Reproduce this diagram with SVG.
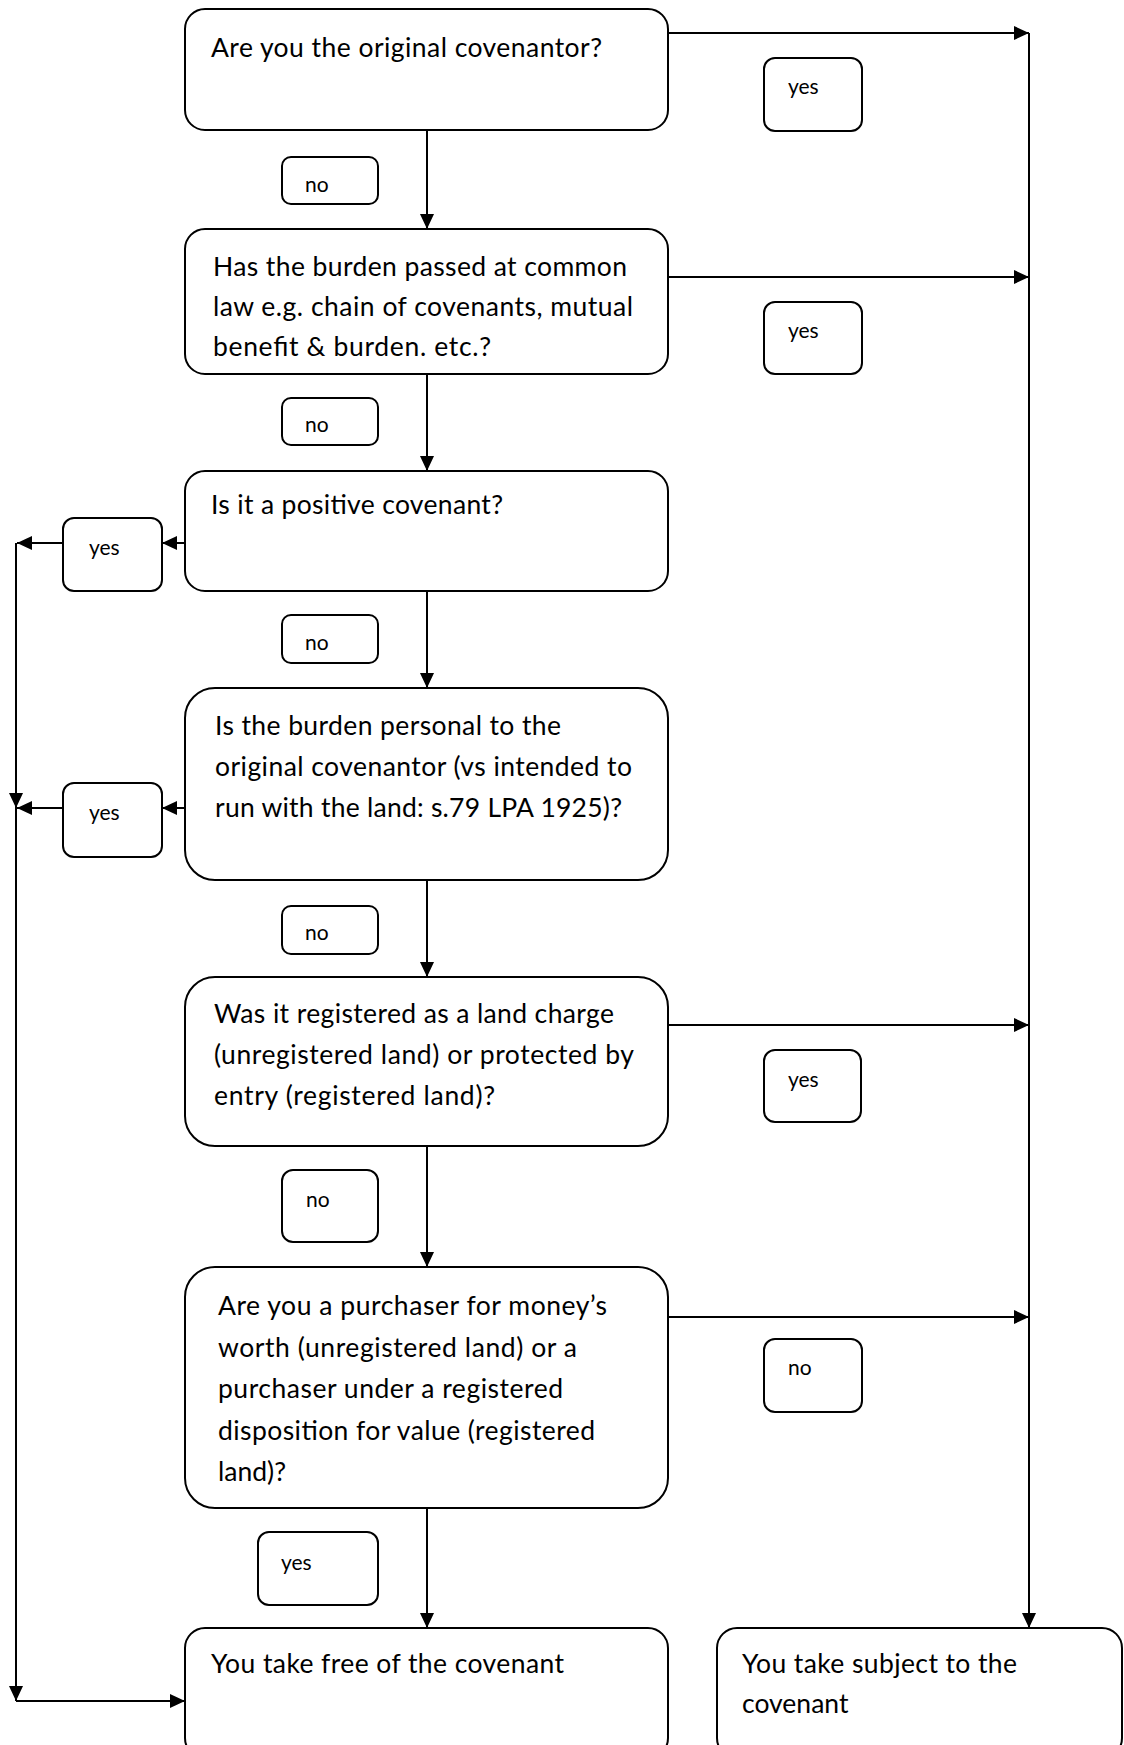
<svg xmlns="http://www.w3.org/2000/svg" width="1124" height="1745" viewBox="0 0 1124 1745">
<defs>
<marker id="ah" markerUnits="userSpaceOnUse" markerWidth="16" markerHeight="14" refX="15" refY="7" orient="auto">
<path d="M0,0 L15,7 L0,14 z" fill="#000"/>
</marker>
<style>
.box{fill:#fff;stroke:#000;stroke-width:2}
.lbl{fill:#fff;stroke:#000;stroke-width:2}
.t{font-family:Lato,"Open Sans","Liberation Sans",sans-serif;font-size:26.5px;fill:#000}
.s{font-family:Lato,"Open Sans","Liberation Sans",sans-serif;font-size:21px;fill:#000}
.c{fill:none;stroke:#000;stroke-width:2}
.a{fill:none;stroke:#000;stroke-width:2;marker-end:url(#ah)}
</style>
</defs>
<rect width="1124" height="1745" fill="#fff"/>
<g id="connectors">
<path class="a" d="M668,33 H1029"/>
<path class="a" d="M668,277 H1029"/>
<path class="a" d="M668,1025 H1029"/>
<path class="a" d="M668,1317 H1029"/>
<path class="a" d="M1029,33 V1628"/>
<path class="a" d="M427,130 V229"/>
<path class="a" d="M427,374 V471"/>
<path class="a" d="M427,591 V688"/>
<path class="a" d="M427,880 V977"/>
<path class="a" d="M427,1146 V1267"/>
<path class="a" d="M427,1508 V1628"/>
<path class="a" d="M185,543 H162"/>
<path class="a" d="M63,543 H17"/>
<path class="a" d="M185,808 H162"/>
<path class="a" d="M63,808 H17"/>
<path class="a" d="M16,543 V808"/>
<path class="a" d="M16,808 V1701"/>
<path class="a" d="M16,1701 H185"/>
</g>
<g id="q1">
<rect class="box" x="185" y="9" width="483" height="121" rx="20"/>
<text class="t" x="211" y="57" textLength="391">Are you the original covenantor?</text>
</g>
<g id="q2">
<rect class="box" x="185" y="229" width="483" height="145" rx="20"/>
<text class="t" x="213" y="276" textLength="414">Has the burden passed at common</text>
<text class="t" x="213" y="316" textLength="420">law e.g. chain of covenants, mutual</text>
<text class="t" x="213" y="356" textLength="278">benefit &amp; burden. etc.?</text>
</g>
<g id="q3">
<rect class="box" x="185" y="471" width="483" height="120" rx="20"/>
<text class="t" x="211" y="514" textLength="292">Is it a positive covenant?</text>
</g>
<g id="q4">
<rect class="box" x="185" y="688" width="483" height="192" rx="30"/>
<text class="t" x="215" y="735" textLength="346">Is the burden personal to the</text>
<text class="t" x="215" y="776" textLength="417">original covenantor (vs intended to</text>
<text class="t" x="215" y="817" textLength="407">run with the land: s.79 LPA 1925)?</text>
</g>
<g id="q5">
<rect class="box" x="185" y="977" width="483" height="169" rx="30"/>
<text class="t" x="214" y="1023" textLength="400">Was it registered as a land charge</text>
<text class="t" x="214" y="1064" textLength="420">(unregistered land) or protected by</text>
<text class="t" x="214" y="1105" textLength="281">entry (registered land)?</text>
</g>
<g id="q6">
<rect class="box" x="185" y="1267" width="483" height="241" rx="30"/>
<text class="t" x="218" y="1315" textLength="389">Are you a purchaser for money’s</text>
<text class="t" x="218" y="1357" textLength="359">worth (unregistered land) or a</text>
<text class="t" x="218" y="1398" textLength="345">purchaser under a registered</text>
<text class="t" x="218" y="1440" textLength="377">disposition for value (registered</text>
<text class="t" x="218" y="1481">land)?</text>
</g>
<g id="free">
<rect class="box" x="185" y="1628" width="483" height="130" rx="20"/>
<text class="t" x="211" y="1673" textLength="353">You take free of the covenant</text>
</g>
<g id="subject">
<rect class="box" x="717" y="1628" width="405" height="130" rx="20"/>
<text class="t" x="742" y="1673" textLength="275">You take subject to the</text>
<text class="t" x="742" y="1713">covenant</text>
</g>
<g id="l1"><rect class="lbl" x="282" y="157" width="96" height="47" rx="9"/><text class="s" x="305" y="192">no</text></g>
<g id="l2"><rect class="lbl" x="282" y="398" width="96" height="47" rx="9"/><text class="s" x="305" y="432">no</text></g>
<g id="l3"><rect class="lbl" x="282" y="615" width="96" height="48" rx="9"/><text class="s" x="305" y="650">no</text></g>
<g id="l4"><rect class="lbl" x="282" y="906" width="96" height="48" rx="9"/><text class="s" x="305" y="940">no</text></g>
<g id="l5"><rect class="lbl" x="282" y="1170" width="96" height="72" rx="11"/><text class="s" x="306" y="1207">no</text></g>
<g id="l6"><rect class="lbl" x="258" y="1532" width="120" height="73" rx="11"/><text class="s" x="281" y="1570">yes</text></g>
<g id="r1"><rect class="lbl" x="764" y="58" width="98" height="73" rx="11"/><text class="s" x="788" y="94">yes</text></g>
<g id="r2"><rect class="lbl" x="764" y="302" width="98" height="72" rx="11"/><text class="s" x="788" y="338">yes</text></g>
<g id="r3"><rect class="lbl" x="764" y="1050" width="97" height="72" rx="11"/><text class="s" x="788" y="1087">yes</text></g>
<g id="r4"><rect class="lbl" x="764" y="1339" width="98" height="73" rx="11"/><text class="s" x="788" y="1375">no</text></g>
<g id="y1"><rect class="lbl" x="63" y="518" width="99" height="73" rx="11"/><text class="s" x="89" y="555">yes</text></g>
<g id="y2"><rect class="lbl" x="63" y="783" width="99" height="74" rx="11"/><text class="s" x="89" y="820">yes</text></g>
</svg>
